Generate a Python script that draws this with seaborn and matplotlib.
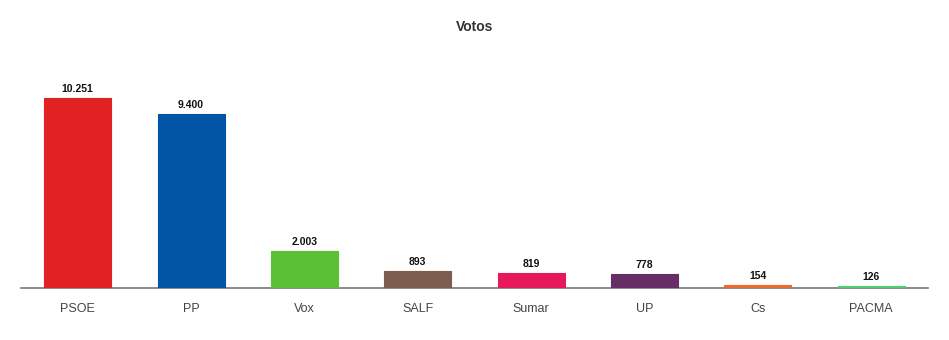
import matplotlib
matplotlib.use("Agg")
import matplotlib.pyplot as plt
import seaborn as sns
import pandas as pd

parties = ["PSOE", "PP", "Vox", "SALF", "Sumar", "UP", "Cs", "PACMA"]
votes = [10251, 9400, 2003, 893, 819, 778, 154, 126]
labels = ["10.251", "9.400", "2.003", "893", "819", "778", "154", "126"]
colors = ["#E22122", "#0254A4", "#5BC035", "#7B5C4F", "#E6185A", "#672D65", "#EB6A2F", "#4FCB72"]

sns.set_style("white")
plt.rcParams['font.family'] = ['Liberation Sans', 'DejaVu Sans']

df = pd.DataFrame({"party": parties, "votes": votes})

fig = plt.figure(figsize=(9.49, 3.4), dpi=100)
ax = fig.add_axes([21/949, 52/340, 907/949, 228/340])
sns.barplot(data=df, x="party", y="votes", hue="party", palette=colors,
            width=0.59, legend=False, ax=ax, saturation=1, zorder=3)
for p, c in zip(ax.patches, colors):
    p.set_edgecolor(c)
    p.set_linewidth(0.8)
    p.set_zorder(3)
ax.set_xlim(-0.5, len(parties) - 0.5)
ax.set_ylim(0, 10251 * 228 / 190)
for i, (v, lab) in enumerate(zip(votes, labels)):
    ax.text(i, v + 10251 * 4 / 190, lab, ha="center", va="bottom",
            fontsize=7.5, fontweight="bold", color="#111111")
for s in ["top", "right", "left"]:
    ax.spines[s].set_visible(False)
ax.spines["bottom"].set_color("#777777")
ax.spines["bottom"].set_linewidth(1.2)
ax.spines["bottom"].set_zorder(1)
ax.set_yticks([])
ax.set_xlabel("")
ax.set_ylabel("")
ax.tick_params(axis="x", length=0, pad=11, labelsize=9, labelcolor="#444444")
fig.text(475/949, 1 - 27/340, "Votos", ha="center", va="center",
         fontsize=10, fontweight="bold", color="#333333")
fig.savefig("out.png", dpi=100, facecolor="white")
